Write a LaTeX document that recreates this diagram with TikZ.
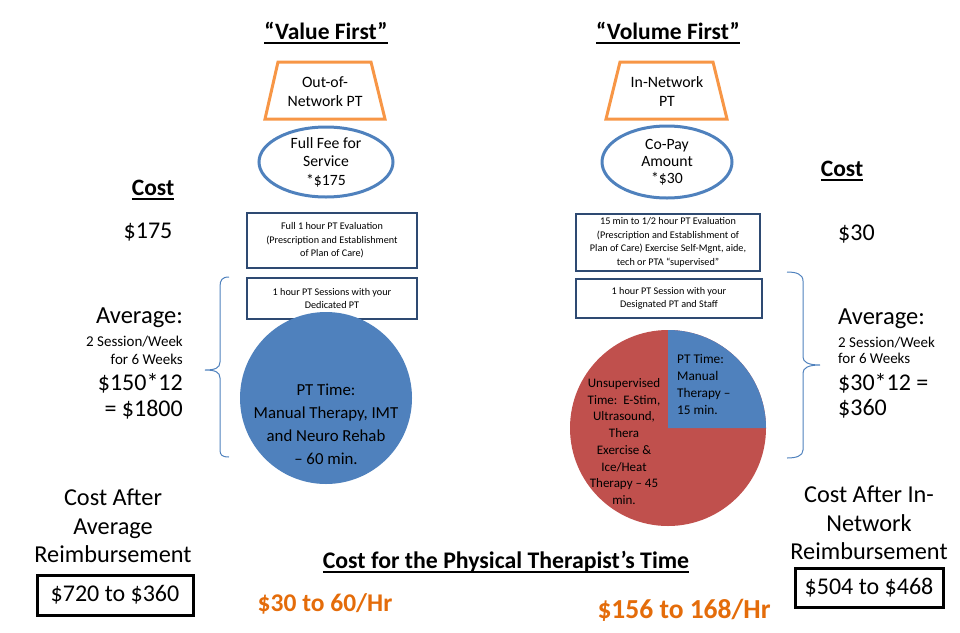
\documentclass[tikz,border=0pt]{standalone}
\usepackage{fontspec}
\setmainfont{Carlito}
\newcommand\myfs[2]{\fontsize{#1}{#2}\selectfont}
\newcommand\myul[1]{\leavevmode\setbox0\hbox{#1}\rlap{\vrule width\wd0 height -0.1em depth 0.175em}\box0}
\definecolor{trapor}{HTML}{F79646}
\definecolor{ellblue}{HTML}{4F81BD}
\definecolor{boxnavy}{HTML}{2E4A72}
\definecolor{piered}{HTML}{C0504D}
\definecolor{txtor}{HTML}{E46C0A}
\tikzset{
  txt/.style={inner sep=0pt, align=center},
  pbox/.style={draw=boxnavy, line width=2.5pt, inner sep=1pt, align=center, font=\myfs{10.2}{13.5}},
  kbox/.style={draw=black, line width=3pt, inner sep=0pt, font=\myfs{24}{27}},
  trap/.style={draw=trapor, line width=3pt, line join=miter},
  ell/.style={draw=ellblue, line width=3pt},
  brace/.style={draw=ellblue, line width=1pt},
}
\begin{document}
\begin{tikzpicture}[x=1pt,y=-1pt]
\useasboundingbox (0,0) rectangle (960,632);

% titles
\node[txt, font=\myfs{23.5}{26}\bfseries] (tval) at (326,33) {\myul{“Value First”}};
\node[txt, font=\myfs{23.5}{26}\bfseries] (tvol) at (668,33) {\myul{“Volume First”}};

% trapezoids
\draw[trap] (278,62) -- (371,62) -- (385,119) -- (265,119) -- cycle;
\node[txt, font=\myfs{15.8}{19}] (trapL) at (325,92) {Out-of-\\Network PT};
\draw[trap] (620,62) -- (713,62) -- (727,119) -- (606,119) -- cycle;
\node[txt, font=\myfs{15.8}{19}] (trapR) at (667,92) {In-Network\\PT};

% ellipses
\draw[ell] (326,162) ellipse [x radius=67, y radius=35];
\node[txt, font=\myfs{15.7}{18.5}] (ellL) at (326,162) {Full Fee for\\Service\\*\$175};
\draw[ell] (667,162) ellipse [x radius=65, y radius=36];
\node[txt, font=\myfs{15.7}{17}] (ellR) at (667,162) {Co-Pay\\Amount\\*\$30};

% boxes
\node[pbox, minimum width=170, minimum height=55] (bL1) at (332,240.5) {Full 1 hour PT Evaluation\\(Prescription and Establishment\\of Plan of Care)};
\node[pbox, minimum width=170, minimum height=41] (bL2) at (332,298.5) {1 hour PT Sessions with your\\Dedicated PT};
\node[pbox, minimum width=184, minimum height=57] (bR1) at (668,242.5) {15 min to 1/2 hour PT Evaluation\\(Prescription and Establishment of\\Plan of Care) Exercise Self-Mgnt, aide,\\tech or PTA “supervised”};
\node[pbox, minimum width=186, minimum height=39] (bR2) at (669,298.5) {1 hour PT Session with your\\Designated PT and Staff};

% left circle
\fill[ellblue] (326,398) circle [radius=86];
\node[txt, font=\myfs{16.8}{23}] (circL) at (326,424.5) {PT Time:\\Manual Therapy, IMT\\and Neuro Rehab\\– 60 min.};

% right pie
\fill[piered] (668,428) circle [radius=98];
\fill[ellblue] (668,428) -- (668,330) arc [start angle=-90, end angle=0, radius=98] -- cycle;
\node[inner sep=0pt, align=left, anchor=north west, font=\myfs{13.3}{17}] (pieB) at (677,354) {PT Time:\\Manual\\Therapy –\\15 min.};
\node[txt, font=\myfs{13}{16.7}] (pieR) at (624,441.5) {Unsupervised\\Time:\ \ E-Stim,\\Ultrasound,\\Thera\\Exercise \&\\Ice/Heat\\Therapy – 45\\min.};

% braces
\draw[brace] (229,277) .. controls (222,277) and (220,280) .. (220,287) -- (220,362)
  .. controls (220,368) and (215,370) .. (205,370)
  .. controls (215,370) and (220,372) .. (220,378) -- (220,450)
  .. controls (220,455) and (222,457) .. (229,457);
\draw[brace] (787,272) .. controls (796,272) and (803,274) .. (803,281) -- (803,357)
  .. controls (803,362) and (808,365) .. (820,365)
  .. controls (808,365) and (803,368) .. (803,373) -- (803,450)
  .. controls (803,456) and (796,458) .. (787,458);

% left column
\node[txt, font=\myfs{23.5}{26}\bfseries] (costL) at (153,190) {\myul{Cost}};
\node[txt, font=\myfs{24}{27}] (pL) at (148,232) {\$175};
\node[inner sep=0pt, anchor=east, font=\myfs{24.5}{27}] (avL) at (183,318) {Average:};
\node[inner sep=0pt, anchor=east, font=\myfs{15}{16}] (sL1) at (183,342) {2 Session/Week};
\node[inner sep=0pt, anchor=east, font=\myfs{15}{16}] (sL2) at (183,359) {for 6 Weeks};
\node[inner sep=0pt, anchor=east, font=\myfs{24}{27}] (mL1) at (183,383) {\$150*12};
\node[inner sep=0pt, anchor=east, font=\myfs{24}{27}] (mL2) at (183,410) {= \$1800};
\node[txt, font=\myfs{24.3}{28.5}] (caL) at (113,526) {Cost After\\Average\\Reimbursement};
\node[kbox, minimum width=156, minimum height=40] (kL) at (115,595) {\$720 to \$360};

% right column
\node[txt, font=\myfs{23.5}{26}\bfseries] (costR) at (842,171) {\myul{Cost}};
\node[inner sep=0pt, anchor=west, font=\myfs{24}{27}] (pR) at (838,234) {\$30};
\node[inner sep=0pt, anchor=west, font=\myfs{24.5}{27}] (avR) at (838,319) {Average:};
\node[inner sep=0pt, anchor=west, font=\myfs{15}{16}] (sR1) at (838,343) {2 Session/Week};
\node[inner sep=0pt, anchor=west, font=\myfs{15}{16}] (sR2) at (838,358) {for 6 Weeks};
\node[inner sep=0pt, anchor=west, font=\myfs{24}{27}] (mR1) at (838,383) {\$30*12 =};
\node[inner sep=0pt, anchor=west, font=\myfs{24}{27}] (mR2) at (838,409) {\$360};
\node[txt, font=\myfs{24.3}{28.5}] (caR) at (869,523) {Cost After In-\\Network\\Reimbursement};
\node[kbox, minimum width=148, minimum height=39] (kR) at (869,587.5) {\$504 to \$468};

% bottom
\node[txt, font=\myfs{23.8}{25}\bfseries] (ctime) at (506,562) {\myul{Cost for the Physical Therapist’s Time}};
\node[txt, font=\myfs{25.5}{30}\bfseries, text=txtor] (rL) at (325,604) {\$30 to 60/Hr};
\node[txt, font=\myfs{27.5}{30}\bfseries, text=txtor] (rR) at (684,610) {\$156 to 168/Hr};
\end{tikzpicture}
\end{document}
